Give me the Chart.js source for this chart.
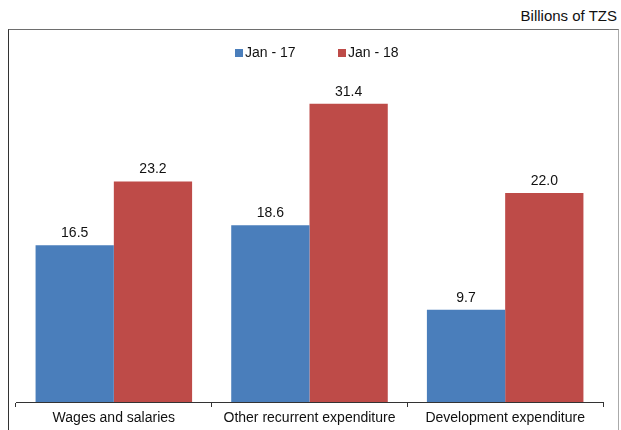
<!DOCTYPE html>
<html>
<head>
<meta charset="utf-8">
<script src="https://cdn.jsdelivr.net/npm/chart.js@4"></script>
<style>
    html, body { margin: 0; padding: 0; background: #fff; }
    #wrap { position: relative; width: 621px; height: 430px; overflow: hidden; }
    #frame {
        position: absolute; left: 8px; top: 29px; width: 609px; height: 420px;
        border-top: 1.5px solid #6e6e6e; border-left: 1.5px solid #333; border-right: 1px solid #aaa;
    }
    #unit {
        position: absolute; right: 4px; top: 7px;
        font: 15px "Liberation Sans", Arial, sans-serif; color: #111;
    }
    canvas { position: absolute; left: 0; top: 0; }
</style>
</head>
<body>
<div id="wrap">
    <div id="frame"></div>
    <div id="unit">Billions of TZS</div>
    <canvas id="chart" width="621" height="430"></canvas>
</div>
<script>
// Expenditure by category, billions of TZS
const categories = ['Wages and salaries', 'Other recurrent expenditure', 'Development expenditure'];
const seriesNames = ['Jan - 17', 'Jan - 18'];
const jan17 = [16.5, 18.6, 9.7];
const jan18 = [23.2, 31.4, 22.0];
const seriesColors = ['#4A7EBB', '#BE4B48'];

const FONT = '"Liberation Sans", Arial, sans-serif';

// Value printed above each bar
const barValues = {
    id: 'barValues',
    afterDatasetsDraw(chart) {
        const ctx = chart.ctx;
        ctx.save();
        ctx.font = '14px ' + FONT;
        ctx.fillStyle = '#111';
        ctx.textAlign = 'center';
        ctx.textBaseline = 'middle';
        chart.data.datasets.forEach((ds, i) => {
            chart.getDatasetMeta(i).data.forEach((bar, j) => {
                ctx.fillText(ds.data[j].toFixed(1), bar.x, bar.y - 12);
            });
        });
        ctx.restore();
    }
};

// Small square-marker legend above the bars
const squareLegend = {
    id: 'squareLegend',
    afterDraw(chart) {
        const ctx = chart.ctx;
        ctx.save();
        ctx.font = '14px ' + FONT;
        ctx.textBaseline = 'middle';
        let x = 235;
        const y = 53;
        chart.data.datasets.forEach(ds => {
            ctx.fillStyle = ds.backgroundColor;
            ctx.fillRect(x, y - 4, 8, 8);
            ctx.fillStyle = '#111';
            ctx.fillText(ds.label, x + 10, y);
            x += 103;
        });
        ctx.restore();
    }
};

new Chart(document.getElementById('chart'), {
    type: 'bar',
    data: {
        labels: categories,
        datasets: [
            { label: seriesNames[0], data: jan17, backgroundColor: seriesColors[0] },
            { label: seriesNames[1], data: jan18, backgroundColor: seriesColors[1] }
        ]
    },
    options: {
        responsive: false,
        animation: false,
        layout: { padding: { left: 16, right: 18, top: 69.5, bottom: 0 } },
        datasets: {
            bar: { barPercentage: 1, categoryPercentage: 0.8, borderWidth: 0 }
        },
        plugins: {
            legend: { display: false },
            tooltip: { enabled: false }
        },
        scales: {
            x: {
                grid: { drawOnChartArea: false, tickLength: 5, color: '#333', offset: true },
                border: { display: true, color: '#333', width: 1 },
                ticks: { color: '#111', font: { family: FONT, size: 14 }, padding: 3, maxRotation: 0 },
                afterFit(scale) { scale.height = 28; }
            },
            y: {
                display: false,
                min: 0,
                max: 35
            }
        }
    },
    plugins: [barValues, squareLegend]
});
</script>
</body>
</html>
